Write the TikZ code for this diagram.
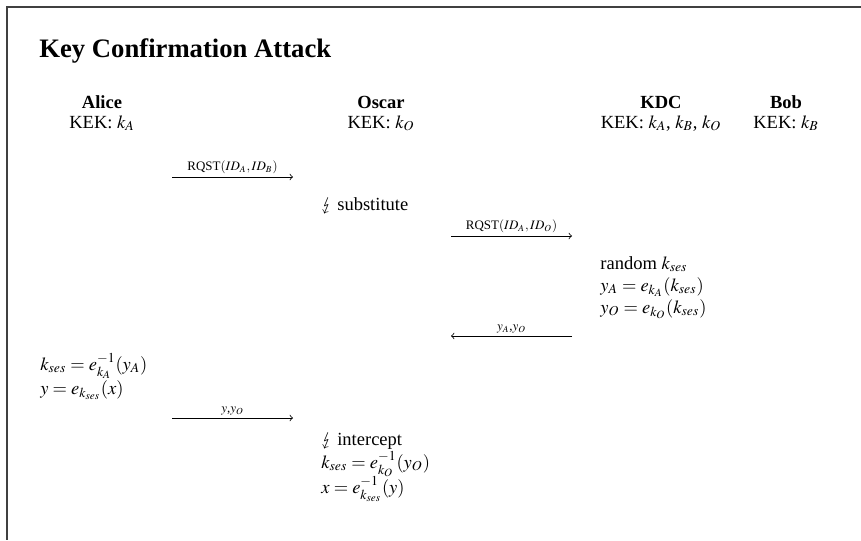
\documentclass[tikz,border=0pt]{standalone}
\usepackage{mathptmx}
\usepackage{stmaryrd}
\usepackage[no-math]{fontspec}
\setmainfont{Liberation Serif}
\newcommand{\zapmark}{$\lightning$}
\begin{document}
\begin{tikzpicture}[x=0.54pt,y=-0.54pt,
  txt/.style={inner sep=0pt, anchor=base west},
  head/.style={inner sep=0pt, anchor=base, font=\bfseries},
  keyl/.style={inner sep=0pt, anchor=base},
  msg/.style={->, line width=0.4pt},
  lbl/.style={font=\scriptsize, above, inner sep=1.5pt},
  frame/.style={draw=black!75, line width=1.1pt}]
\useasboundingbox (0,0) rectangle (861,540);
% frame
\draw[frame] (861,7) -- (7,7) -- (7,540);
% title
\node[txt, font=\Large\bfseries] (title) at (39,57) {Key Confirmation Attack};
% headers
\node[head] (alice) at (102,108) {Alice};
\node[keyl] (alicek) at (102,128) {KEK: $k_A$};
\node[head] (oscar) at (381,108) {Oscar};
\node[keyl] (oscark) at (381,128) {KEK: $k_O$};
\node[head] (kdc) at (661,108) {KDC};
\node[keyl] (kdck) at (661,128) {KEK: $k_A$, $k_B$, $k_O$};
\node[head] (bob) at (786,108) {Bob};
\node[keyl] (bobk) at (786,128) {KEK: $k_B$};
% message 1
\coordinate (m1s) at (172,177);
\coordinate (m1e) at (293,177);
\draw[msg] (m1s) -- node[lbl] {RQST$(ID_A,ID_B)$} (m1e);
% substitute
\node[txt] (subst) at (321,210) {\zapmark\ substitute};
% message 2
\coordinate (m2s) at (451,236);
\coordinate (m2e) at (572,236);
\draw[msg] (m2s) -- node[lbl] {RQST$(ID_A,ID_O)$} (m2e);
% KDC computations
\node[txt] (kdc1) at (600,269) {random $k_{ses}$};
\node[txt] (kdc2) at (600,291) {$y_A=e_{k_A}(k_{ses})$};
\node[txt] (kdc3) at (600,313) {$y_O=e_{k_O}(k_{ses})$};
% message 3
\coordinate (m3s) at (572,336);
\coordinate (m3e) at (451,336);
\draw[msg] (m3s) -- node[lbl] {$y_A$,$y_O$} (m3e);
% Alice computations
\node[txt] (al1) at (40,370) {$k_{ses}=e_{k_A}^{-1}(y_A)$};
\node[txt] (al2) at (40,394) {$y=e_{k_{ses}}(x)$};
% message 4
\coordinate (m4s) at (172,418);
\coordinate (m4e) at (293,418);
\draw[msg] (m4s) -- node[lbl] {$y$,$y_O$} (m4e);
% Oscar computations
\node[txt] (os1) at (321,445) {\zapmark\ intercept};
\node[txt] (os2) at (321,468) {$k_{ses}=e_{k_O}^{-1}(y_O)$};
\node[txt] (os3) at (321,493) {$x=e_{k_{ses}}^{-1}(y)$};
\end{tikzpicture}
\end{document}
